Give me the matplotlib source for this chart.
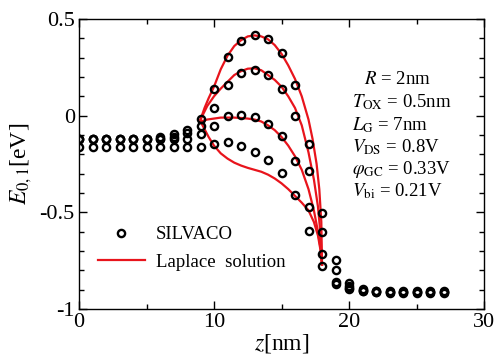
import numpy as np
import matplotlib
matplotlib.use('Agg')
import matplotlib.pyplot as plt
from matplotlib.ticker import MultipleLocator

plt.rcParams['font.family'] = 'Liberation Serif'
plt.rcParams['mathtext.fontset'] = 'stix'
plt.rcParams['axes.unicode_minus'] = False

# SILVACO points, z = 0..27 nm
z_pts = list(range(28))
silvaco_1 = [-0.12, -0.12, -0.12, -0.12, -0.12, -0.12, -0.11, -0.095, -0.075, -0.017,
             0.139, 0.305, 0.388, 0.417, 0.396, 0.323, 0.16, -0.148, -0.504, -0.746,
             -0.867, -0.895, -0.905, -0.908, -0.908, -0.908, -0.908, -0.908]
silvaco_2 = [-0.12, -0.12, -0.12, -0.12, -0.12, -0.12, -0.12, -0.108, -0.088, -0.055,
             0.04, 0.16, 0.22, 0.235, 0.212, 0.14, -0.003, -0.288, -0.60, -0.80,
             -0.88, -0.90, -0.907, -0.91, -0.91, -0.91, -0.91, -0.91]
silvaco_3 = [-0.12, -0.12, -0.12, -0.12, -0.12, -0.12, -0.12, -0.12, -0.12, -0.095,
             -0.055, -0.003, 0.002, -0.009, -0.045, -0.107, -0.236, -0.473, -0.717, -0.858,
             -0.89, -0.905, -0.91, -0.912, -0.912, -0.912, -0.912, -0.912]
silvaco_4 = [-0.16, -0.16, -0.16, -0.16, -0.16, -0.16, -0.16, -0.16, -0.16, -0.16,
             -0.147, -0.136, -0.155, -0.188, -0.231, -0.294, -0.41, -0.594, -0.776, -0.87,
             -0.895, -0.905, -0.912, -0.915, -0.915, -0.915, -0.915, -0.915]

# Laplace solution curves
z_lap1 = [9.0, 9.3, 9.6, 10, 10.5, 11, 11.5, 12, 12.5, 13, 13.5, 14, 14.5, 15, 15.5,
          16, 16.5, 17, 17.3, 17.6, 17.8, 17.95, 18.0]
e_lap1 = [-0.02, 0.04, 0.09, 0.15, 0.24, 0.31, 0.36, 0.39, 0.41, 0.415, 0.41, 0.395,
          0.365, 0.32, 0.26, 0.19, 0.10, -0.02, -0.12, -0.25, -0.38, -0.55, -0.77]
z_lap2 = [9.0, 9.5, 10, 10.5, 11, 11.5, 12, 12.5, 13, 13.5, 14, 14.5, 15, 15.5, 16,
          16.5, 17, 17.4, 17.7, 17.9, 18.0]
e_lap2 = [-0.02, 0.05, 0.10, 0.14, 0.175, 0.21, 0.23, 0.243, 0.245, 0.235, 0.21, 0.185,
          0.15, 0.10, 0.04, -0.05, -0.19, -0.33, -0.47, -0.62, -0.77]
z_lap3 = [9.0, 9.5, 10, 10.5, 11, 11.5, 12, 12.5, 13, 13.5, 14, 14.5, 15, 15.5, 16,
          16.5, 17, 17.4, 17.7, 17.9, 18.0]
e_lap3 = [-0.03, -0.02, -0.015, -0.01, -0.01, -0.01, -0.012, -0.015, -0.02, -0.03, -0.05,
          -0.075, -0.11, -0.155, -0.21, -0.28, -0.38, -0.49, -0.60, -0.69, -0.77]
z_lap4 = [9.0, 9.3, 9.6, 10, 10.5, 11, 11.5, 12, 12.5, 13, 13.5, 14, 14.5, 15, 15.5,
          16, 16.5, 17, 17.4, 17.7, 17.9, 18.0]
e_lap4 = [-0.03, -0.07, -0.11, -0.155, -0.195, -0.222, -0.243, -0.258, -0.27, -0.28,
          -0.29, -0.305, -0.325, -0.35, -0.38, -0.415, -0.45, -0.49, -0.55, -0.62,
          -0.70, -0.77]

params = [r'$R$ = 2nm', r'$T_{\rm OX}$ = 0.5nm', r'$L_{\rm G}$ = 7nm',
          r'$V_{\rm DS}$ = 0.8V', r'$\varphi_{\rm GC}$ = 0.33V', r'$V_{\rm bi}$ = 0.21V']

red = '#e8141c'

fig = plt.figure(figsize=(4.98, 3.62), dpi=100)
ax = fig.add_axes([79/498, 1-309/362, 405/498, 290/362])

ax.plot(z_lap1, e_lap1, color=red, lw=1.6, label='Laplace  solution')
ax.plot(z_lap2, e_lap2, color=red, lw=1.6)
ax.plot(z_lap3, e_lap3, color=red, lw=1.6)
ax.plot(z_lap4, e_lap4, color=red, lw=1.6)

for i, s in enumerate([silvaco_1, silvaco_2, silvaco_3, silvaco_4]):
    ax.plot(z_pts, s, 'o', ms=5.2, mfc='none', mec='black', mew=1.7,
            label='SILVACO' if i == 0 else None)

ax.set_xlim(0, 30)
ax.set_ylim(-1, 0.5)
ax.xaxis.set_major_locator(MultipleLocator(10))
ax.xaxis.set_minor_locator(MultipleLocator(5))
ax.yaxis.set_major_locator(MultipleLocator(0.5))
ax.yaxis.set_minor_locator(MultipleLocator(0.1))
ax.yaxis.set_major_formatter(plt.FuncFormatter(lambda v, p: '%g' % v))
ax.tick_params(which='both', direction='in', top=True, right=True, labelsize=16, width=1)
ax.tick_params(which='major', length=6, pad=3)
ax.tick_params(which='minor', length=3.5)
for sp in ax.spines.values():
    sp.set_linewidth(1)

ax.set_xlabel(r'$z$[nm]', fontsize=17, labelpad=0)
ax.set_ylabel(r'$E_{0,1}$[eV]', fontsize=17, labelpad=4)

ys = [80, 102, 125, 147, 169, 191]
xs = [364, 352, 352, 352, 352, 352]
for t, x, y in zip(params, xs, ys):
    fig.text(x/498, 1-y/362, t, fontsize=13.5, va='center', ha='left')

h, l = ax.get_legend_handles_labels()
ax.legend([h[1], h[0]], [l[1], l[0]], loc='center left', bbox_to_anchor=(0.028, 0.209),
          frameon=False, fontsize=13.5, handlelength=2.5, labelspacing=0.55,
          borderaxespad=0, handletextpad=0.6)

fig.savefig('out.png', dpi=100)
